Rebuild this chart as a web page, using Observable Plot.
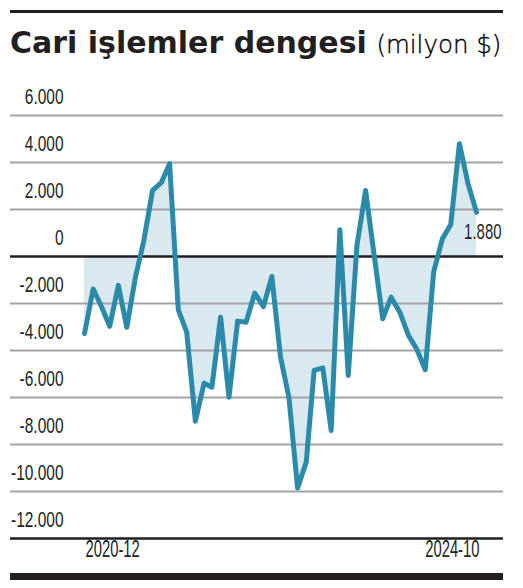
<!DOCTYPE html>
<html>
<head>
<meta charset="utf-8">
<script src="https://cdn.jsdelivr.net/npm/d3@7"></script>
<script src="https://cdn.jsdelivr.net/npm/@observablehq/plot@0.6"></script>
<style>
  html, body { margin: 0; padding: 0; background: #fff; }
  #page { position: relative; width: 523px; height: 588px; overflow: hidden; }
  #topline { position: absolute; left: 10px; top: 10px; width: 493px; height: 3px; background: #231f20; }
  #bottombar { position: absolute; left: 10px; top: 573px; width: 493px; height: 7px; background: #231f20; }
  #title { position: absolute; left: 10px; top: 28px; font-family: "DejaVu Sans", sans-serif; font-size: 30px; line-height: 30px; color: #231f20; white-space: nowrap; }
  #title b { font-weight: 700; }
  #title span { font-size: 24.5px; font-weight: 200; color: #000; -webkit-text-stroke: 0.35px #000; }
  #chart { position: absolute; left: 0; top: 90px; }
</style>
</head>
<body>
<div id="page">
  <div id="topline"></div>
  <div id="title"><b>Cari işlemler dengesi</b> <span>(milyon $)</span></div>
  <div id="chart"></div>
  <div id="bottombar"></div>
</div>
<script>
const months = [
  "2020-12",
  "2021-01","2021-02","2021-03","2021-04","2021-05","2021-06","2021-07","2021-08","2021-09","2021-10","2021-11","2021-12",
  "2022-01","2022-02","2022-03","2022-04","2022-05","2022-06","2022-07","2022-08","2022-09","2022-10","2022-11","2022-12",
  "2023-01","2023-02","2023-03","2023-04","2023-05","2023-06","2023-07","2023-08","2023-09","2023-10","2023-11","2023-12",
  "2024-01","2024-02","2024-03","2024-04","2024-05","2024-06","2024-07","2024-08","2024-09","2024-10"
];
const balance = [
  -3280,
  -1380, -2170, -2970, -1230, -3010, -880, 680, 2810, 3140, 3950, -2270, -3220,
  -7010, -5390, -5560, -2580, -5990, -2750, -2800, -1560, -2130, -850, -4280, -5990,
  -9850, -8750, -4850, -4740, -7400, 1140, -5060, 470, 2810, 100, -2650, -1730,
  -2370, -3360, -3930, -4820, -670, 750, 1360, 4800, 3090, 1880
];
const yTicks = [6000, 4000, 2000, 0, -2000, -4000, -6000, -8000, -10000, -12000];
const xTickLabels = ["2020-12", "2024-10"];
const lastLabel = "1.880";

const parse = d3.utcParse("%Y-%m");
const data = months.map((m, i) => ({date: parse(m), value: balance[i]}));
const last = data[data.length - 1];

const trLocale = d3.formatLocale({decimal: ",", thousands: ".", grouping: [3], currency: ["", ""], minus: "-"});
const fmt = trLocale.format(",");

const numFont = '"Liberation Sans", Arial, sans-serif';

const chart = Plot.plot({
  width: 523,
  height: 498,
  marginTop: 25,
  marginBottom: 50,
  marginLeft: 84,
  marginRight: 47,
  style: {fontFamily: numFont, fontSize: "21px", color: "#231f20", background: "transparent", overflow: "visible"},
  x: {type: "utc", axis: null},
  y: {domain: [-12000, 6000], axis: null},
  marks: [
    Plot.areaY(data, {x: "date", y: "value", fill: "#dae8f0", curve: "linear"}),
    Plot.ruleY(yTicks.filter(t => t !== 0 && t !== -12000), {stroke: "#a3a3a5", strokeWidth: 2, insetLeft: -74, insetRight: -27}),
    Plot.ruleY([0], {stroke: "#231f20", strokeWidth: 2.5, insetLeft: -74, insetRight: -27}),
    Plot.ruleY([-12000], {stroke: "#231f20", strokeWidth: 2.5, insetLeft: -74, insetRight: -27}),
    Plot.lineY(data, {x: "date", y: "value", stroke: "#2b8aa9", strokeWidth: 5, strokeLinejoin: "round", strokeLinecap: "round"}),
    Plot.axisY(yTicks, {label: null, tickSize: 0, tickPadding: 21, dy: -18.5, tickFormat: fmt, fontSize: 21.5, fill: "#231f20"}),
    Plot.text([xTickLabels[0]], {x: d => parse(d), text: d => d, frameAnchor: "bottom", textAnchor: "start", dy: 18, dx: 1, fontSize: 23.5, fill: "#231f20"}),
    Plot.text([xTickLabels[1]], {x: d => parse(d), text: d => d, frameAnchor: "bottom", textAnchor: "end", dy: 18, dx: 3, fontSize: 23.5, fill: "#231f20"}),
    Plot.text([last], {x: "date", y: "value", text: () => lastLabel, textAnchor: "end", dx: 25, dy: 20, fontSize: 22, fill: "#231f20"})
  ]
});
document.getElementById("chart").appendChild(chart);

// condense the numeric labels to mimic the narrow typeface of the original
chart.querySelectorAll("text").forEach(t => {
  const s = t.textContent;
  const factor = xTickLabels.includes(s) ? 0.63 : s === lastLabel ? 0.68 : 0.72;
  const w = t.getComputedTextLength();
  if (w > 0) {
    t.setAttribute("textLength", (w * factor).toFixed(1));
    t.setAttribute("lengthAdjust", "spacingAndGlyphs");
  }
});
</script>
</body>
</html>
